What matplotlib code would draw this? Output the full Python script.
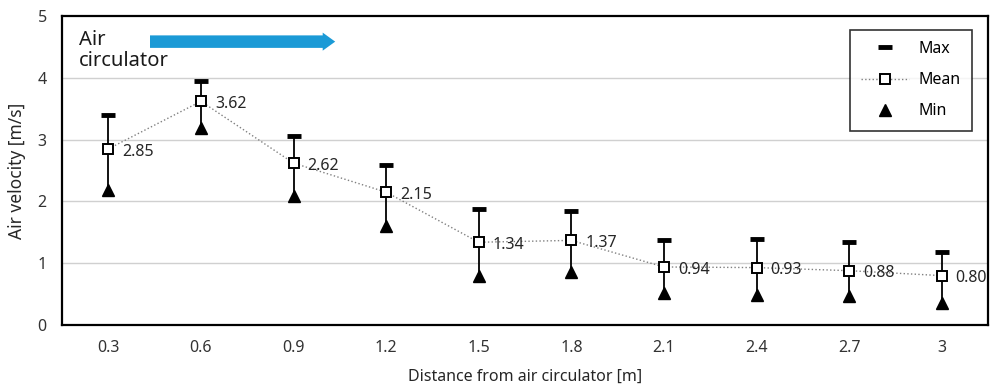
import matplotlib
matplotlib.use("Agg")
import matplotlib.pyplot as plt
import numpy as np

# data
distances = ["0.3", "0.6", "0.9", "1.2", "1.5", "1.8", "2.1", "2.4", "2.7", "3"]
v_mean = [2.85, 3.62, 2.62, 2.15, 1.34, 1.37, 0.94, 0.93, 0.88, 0.80]
v_max = [3.40, 3.95, 3.06, 2.59, 1.88, 1.84, 1.38, 1.39, 1.34, 1.18]
v_min = [2.18, 3.19, 2.09, 1.60, 0.79, 0.86, 0.52, 0.49, 0.47, 0.36]

plt.rcParams['font.family'] = ['Noto Sans', 'DejaVu Sans']

fig = plt.figure(figsize=(9.94, 3.87), dpi=100)
ax = fig.add_axes([0.0624, 0.160, 0.9316, 0.7987])

x = np.arange(len(distances))

# grid
for g in [1, 2, 3, 4]:
    ax.axhline(g, color="#d0d0d0", lw=1.0, zorder=0)

# min-max bars
ax.vlines(x, v_min, v_max, color="black", lw=1.3, zorder=2)
ax.plot(x, v_max, ls="none", marker="_", ms=10, mew=3.5, color="black",
        zorder=3, label="Max")
ax.plot(x, v_mean, ls=":", color="#808080", lw=1.0, marker="s", ms=7.5,
        mfc="white", mec="black", mew=1.4, zorder=4, label="Mean")
ax.plot(x, v_min, ls="none", marker="^", ms=8, color="black", zorder=3,
        label="Min")

for xi, m in zip(x, v_mean):
    ax.annotate(f"{m:.2f}", (xi, m), xytext=(10, -2), textcoords="offset points",
                ha="left", va="center", fontsize=11.5, color="#262626",
                annotation_clip=False, zorder=5)

ax.set_xlim(-0.5, len(distances) - 0.5)
ax.set_ylim(0, 5)
ax.set_xticks(x)
ax.set_xticklabels(distances)
ax.set_yticks([0, 1, 2, 3, 4, 5])
ax.tick_params(length=0, labelsize=11.5, colors="#333333")
ax.tick_params(axis="x", pad=11)
ax.tick_params(axis="y", pad=11)
for s in ax.spines.values():
    s.set_linewidth(1.6)
    s.set_color("black")

ax.set_xlabel("Distance from air circulator [m]", fontsize=11.5, color="#262626",
              labelpad=9)
ax.set_ylabel("Air velocity [m/s]", fontsize=12.5, color="#262626", labelpad=8)

# air circulator annotation and arrow
ax.text(0.018, 0.955, "Air\ncirculator", transform=ax.transAxes, fontsize=14.5,
        va="top", ha="left", color="#1a1a1a", linespacing=1.1)
ax.annotate("", xy=(0.298, 0.917), xytext=(0.092, 0.917),
            xycoords="axes fraction",
            arrowprops=dict(arrowstyle="simple,head_width=1.3,head_length=0.9,tail_width=0.9",
                            color="#1b9ad6", lw=0))

leg = ax.legend(loc="upper right", bbox_to_anchor=(0.9827, 0.955), borderaxespad=0,
                fontsize=11.5, frameon=True, fancybox=False, edgecolor="black",
                borderpad=0.7, labelspacing=0.95, handlelength=3.0,
                handletextpad=0.6)
leg.get_frame().set_linewidth(1.2)

fig.savefig("out.png", dpi=100)
